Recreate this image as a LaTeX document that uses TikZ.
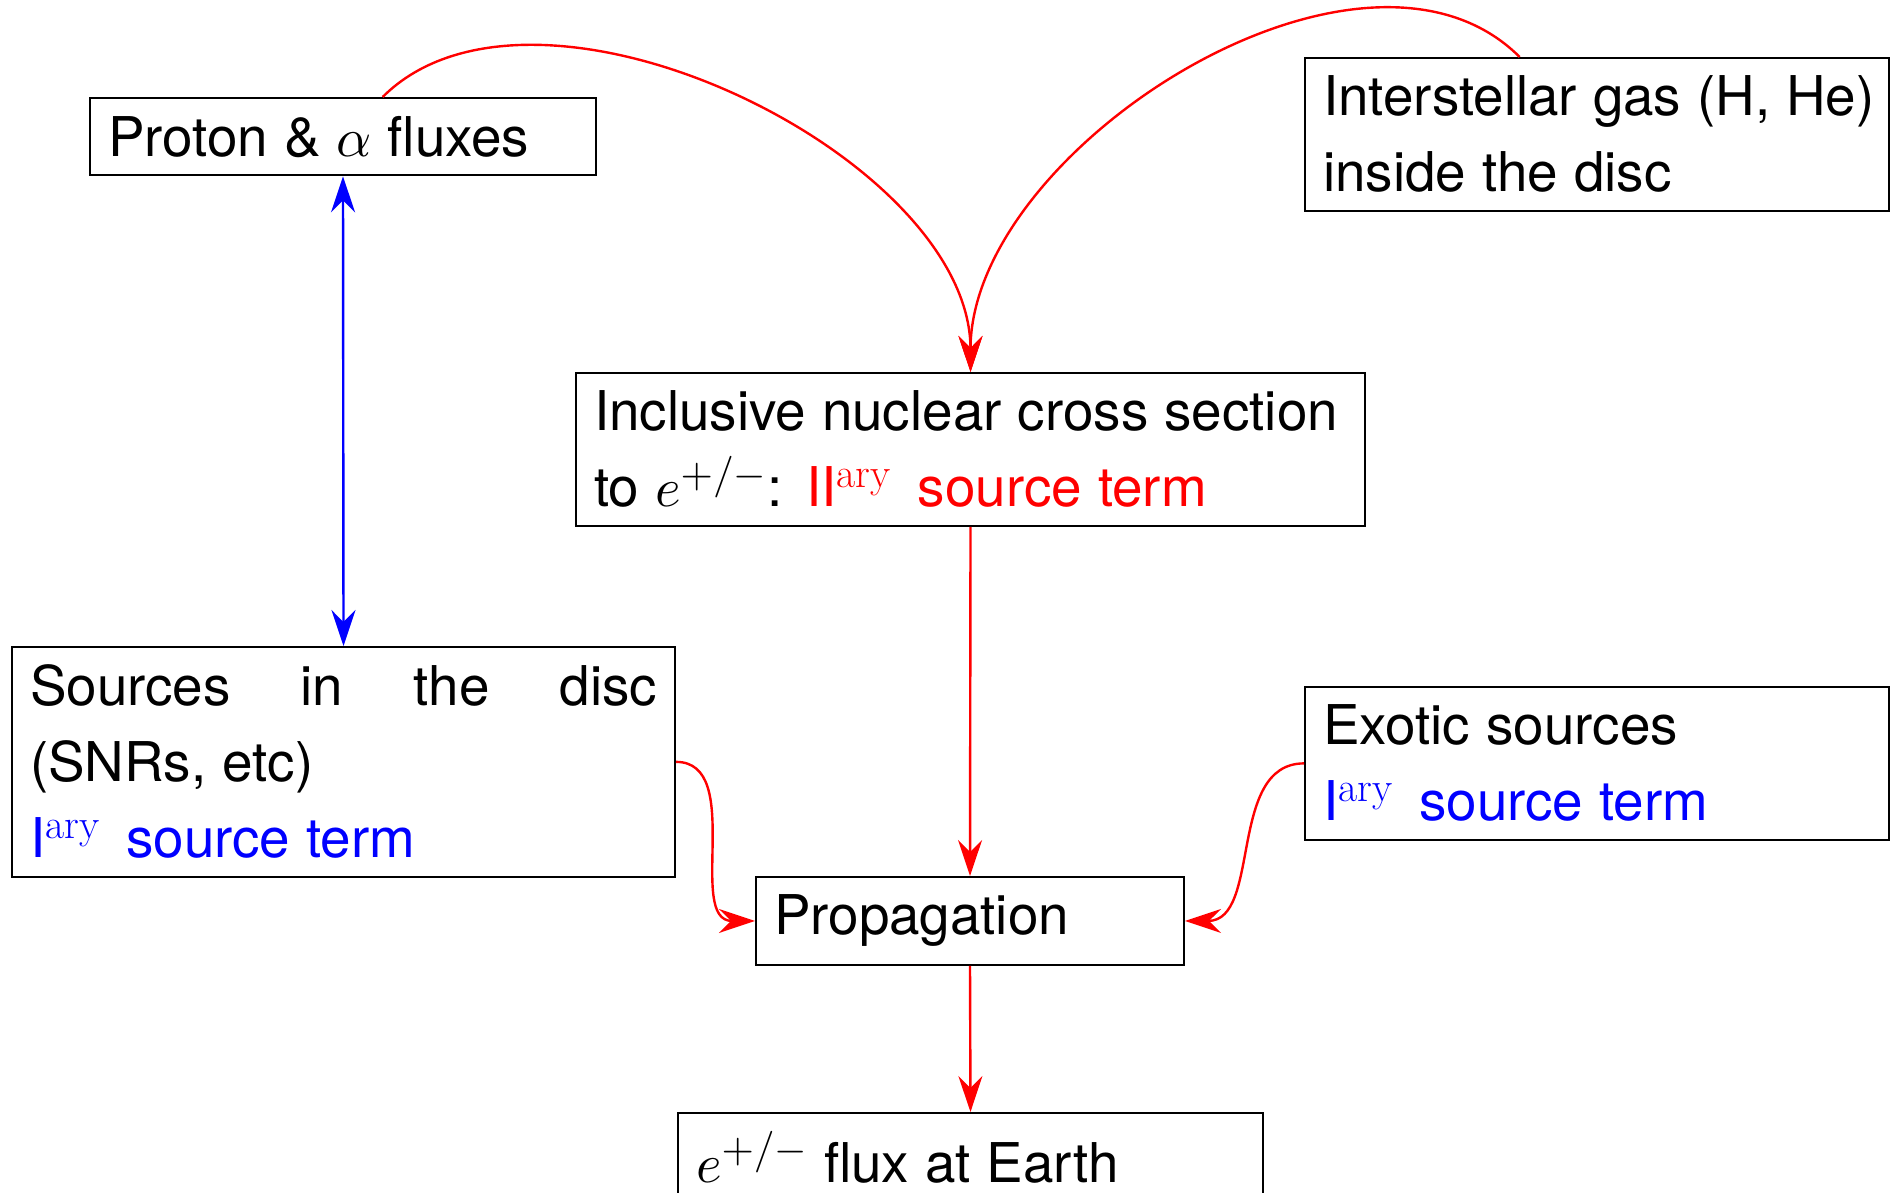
\documentclass[tikz,border=0pt]{standalone}
\usepackage{fontspec}
\setsansfont{TeX Gyre Heros}
\renewcommand{\familydefault}{\sfdefault}
\DeclareFontShape{OML}{cmm}{m}{it}{<->cmmi10}{}
\DeclareFontShape{OMS}{cmsy}{m}{n}{<->cmsy10}{}
\DeclareFontShape{OT1}{cmr}{m}{n}{<->cmr10}{}
\DeclareMathSizes{27.4}{27.4}{20.8}{15}
\usetikzlibrary{arrows.meta}
\newcommand{\ary}{$^{\rm ary}$\hspace{5pt}}
\begin{document}
\begin{tikzpicture}[x=0.5pt,y=0.5pt,
  box/.style={draw=black, line width=1pt, inner sep=9pt, anchor=north west,
    align=left, font=\fontsize{27.4}{38}\selectfont,
    execute at begin node={\frenchspacing\spaceskip=8pt plus 3pt minus 2pt}},
  redarr/.style={draw=red, line width=1.2pt, -{Stealth[length=18pt,width=12pt,inset=6pt]}},
  bluearr/.style={draw=blue, line width=1.2pt,
    {Stealth[length=18pt,width=12pt,inset=6pt]}-{Stealth[length=18pt,width=12pt,inset=6pt]}}]
\useasboundingbox (0,0) rectangle (1894,-1193);
\node[box, text width=235pt] (pa) at (89,-97) {\mbox{Proton \& $\alpha$ fluxes}};
\node[box, text width=274pt] (gas) at (1304,-57) {\mbox{Interstellar gas (H, He)}\\\mbox{inside the disc}};
\node[box, text width=376.5pt] (inc) at (575,-372) {\mbox{Inclusive nuclear cross section}\\\mbox{to $e^{+/-}$:\hspace{4pt} \textcolor{red}{II\ary{} source term}}};
\node[box, text width=313.5pt] (src) at (11,-646) {Sources\hfill in\hfill the\hfill disc\\(SNRs, etc)\\\textcolor{blue}{I\ary{} source term}};
\node[box, text width=274pt] (exo) at (1304,-686) {Exotic sources\\\mbox{\textcolor{blue}{I\ary{} source term}}};
\node[box, text width=196pt] (prop) at (755,-876) {Propagation};
\node[box, text width=274.5pt] (flux) at (677,-1112) {\mbox{$e^{+/-}$ flux at Earth}};
\draw[bluearr] (pa.south) -- (src.north);
\draw[redarr] (pa) to[out=45,in=90,looseness=0.85] (inc);
\draw[redarr] (gas) to[out=135,in=90,looseness=0.9] (inc);
\draw[redarr] (inc.south) -- (prop.north);
\draw[redarr] (src) to[out=0,in=180] (prop);
\draw[redarr] (exo) to[out=180,in=0] (prop);
\draw[redarr] (prop.south) -- (flux.north);
\end{tikzpicture}
\end{document}
